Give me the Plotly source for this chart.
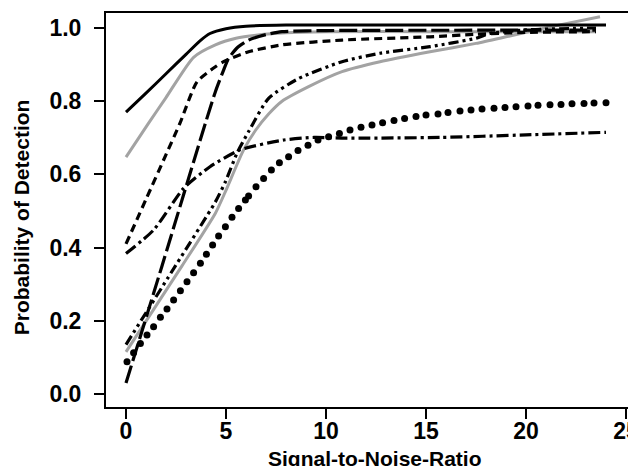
import plotly.graph_objects as go

# ---- data ----
solid_x = [0, 1, 2, 3, 3.7, 4.2, 5, 6, 8, 12, 24]
solid_y = [0.77, 0.822, 0.875, 0.928, 0.965, 0.985, 0.998, 1.005, 1.008, 1.008, 1.008]

graytop_x = [0, 1.13, 2, 3.38, 4.47, 5.5, 6.6, 8, 10, 15, 23.5]
graytop_y = [0.647, 0.74, 0.81, 0.92, 0.954, 0.972, 0.981, 0.987, 0.99, 0.99, 0.99]

longdash_x = [0, 1.8, 3.97, 4.47, 4.88, 5.13, 5.6, 6.13, 7, 7.8, 10, 23.5]
longdash_y = [0.03, 0.35, 0.74, 0.826, 0.885, 0.917, 0.948, 0.967, 0.982, 0.99, 0.993, 0.994]

shortdash_x = [0, 1, 2, 2.7, 3.55, 4.47, 4.88, 6.13, 7.8, 10.8, 15.2, 17.5, 20, 23.5]
shortdash_y = [0.41, 0.532, 0.654, 0.74, 0.853, 0.894, 0.908, 0.935, 0.954, 0.967, 0.976, 0.983, 0.988, 0.99]

dashdot_x = [0, 1.38, 2.88, 4.2, 5.7, 7.9, 9.4, 11, 15.7, 20, 24]
dashdot_y = [0.384, 0.448, 0.562, 0.621, 0.667, 0.694, 0.701, 0.699, 0.701, 0.708, 0.715]

dddot_x = [0, 2.47, 4.47, 4.97, 5.55, 6.13, 7.13, 8.63, 10.8, 12.7, 15.2, 17.5, 18.2, 20, 23.5]
dddot_y = [0.135, 0.35, 0.525, 0.58, 0.658, 0.717, 0.808, 0.862, 0.908, 0.931, 0.949, 0.972, 0.985, 0.995, 1.0]

graylow_x = [0, 2.8, 4.47, 4.97, 5.88, 6.47, 7.13, 7.8, 9.13, 10.8, 12.7, 15.2, 17.5, 19, 21.2, 23.7]
graylow_y = [0.115, 0.35, 0.494, 0.553, 0.667, 0.72, 0.765, 0.8, 0.84, 0.881, 0.908, 0.935, 0.958, 0.976, 1.003, 1.031]

dots_x = [0.05, 0.38, 0.72, 1.05, 1.38, 1.72, 2.05, 2.38, 2.72, 3.05, 3.38, 3.72, 4.02, 4.33,
          4.63, 4.97, 5.3, 5.63, 5.97, 6.13, 6.5, 6.88, 7.27, 7.67, 8.13, 8.6, 9.1, 9.6, 10.13,
          10.67, 11.2, 11.75, 12.3, 12.83, 13.4, 13.93, 14.5, 15.0, 15.6, 16.1, 16.7, 17.25,
          17.8, 18.4, 18.95, 19.5, 20.1, 20.6, 21.2, 21.75, 22.3, 22.9, 23.4, 24.0]
dots_y = [0.088, 0.113, 0.138, 0.161, 0.184, 0.21, 0.232, 0.257, 0.282, 0.307, 0.331, 0.357, 0.382, 0.407,
          0.432, 0.457, 0.483, 0.507, 0.53, 0.541, 0.566, 0.589, 0.612, 0.632, 0.648, 0.665, 0.68, 0.694, 0.703,
          0.712, 0.721, 0.729, 0.735, 0.741, 0.747, 0.753, 0.758, 0.762, 0.765, 0.769, 0.773, 0.776,
          0.779, 0.781, 0.783, 0.785, 0.787, 0.789, 0.79, 0.791, 0.793, 0.794, 0.795, 0.796]

x_ticks = [0, 5, 10, 15, 20, 25]
y_ticks = [0.0, 0.2, 0.4, 0.6, 0.8, 1.0]
x_title = "Signal-to-Noise-Ratio"
y_title = "Probability of Detection"

GRAY = "#a3a3a3"
fig = go.Figure()

def add_line(x, y, color, width, dash):
    fig.add_trace(go.Scatter(x=x, y=y, mode="lines",
                             line=dict(color=color, width=width, dash=dash, shape="spline", smoothing=0.6),
                             showlegend=False, hoverinfo="skip"))

add_line(graylow_x, graylow_y, GRAY, 3, "solid")
add_line(graytop_x, graytop_y, GRAY, 3, "solid")
add_line(dddot_x, dddot_y, "black", 3.2, "10px,4px,3px,4px,3px,4px")
add_line(dashdot_x, dashdot_y, "black", 3.2, "12px,4px,3px,4px")
add_line(shortdash_x, shortdash_y, "black", 3.2, "8px,5px")
add_line(longdash_x, longdash_y, "black", 3.2, "18px,5px")
add_line(solid_x, solid_y, "black", 3, "solid")
fig.add_trace(go.Scatter(x=dots_x, y=dots_y, mode="markers",
                         marker=dict(color="black", size=7),
                         showlegend=False, hoverinfo="skip"))

# page body has an 8px margin: plot area placed so it lands at the reference's pixels
L, T, B, R = 98, 4.7, 67.3, 8
PW, PH = 636 - L - R, 466 - T - B

FONT = "Liberation Sans"
tickfont = dict(family=FONT, size=23, color="black", weight="bold")
titlefont = dict(family=FONT, size=21, color="black", weight="bold")
fig.update_layout(
    width=636, height=466,
    margin=dict(l=L, r=R, t=T, b=B, autoexpand=False),
    plot_bgcolor="white", paper_bgcolor="white",
    xaxis=dict(range=[-1.0, 25.5], tickvals=x_ticks, ticks="outside", ticklen=10, tickwidth=1.5,
               tickcolor="black", showline=True, linecolor="black", linewidth=2, mirror=True,
               showgrid=False, zeroline=False, tickfont=tickfont, automargin=False,
               ticklabelstandoff=-8),
    yaxis=dict(range=[-0.0355, 1.041], tickvals=y_ticks, tickformat=".1f", ticks="outside", ticklen=10,
               tickwidth=1.5, tickcolor="black", showline=True, linecolor="black", linewidth=2,
               showgrid=False, zeroline=False, tickfont=tickfont, automargin=False,
               ticklabelstandoff=8),
    annotations=[
        dict(text=x_title, xref="paper", yref="paper", x=(367 - L) / PW, y=(PH + T - 450) / PH,
             xanchor="center", yanchor="middle", showarrow=False, font=titlefont),
        dict(text=y_title, xref="paper", yref="paper", x=(13 - L) / PW, y=(PH + T - 209) / PH,
             xanchor="center", yanchor="middle", showarrow=False, textangle=-90, font=titlefont),
    ],
)

fig.write_html("out.html")
